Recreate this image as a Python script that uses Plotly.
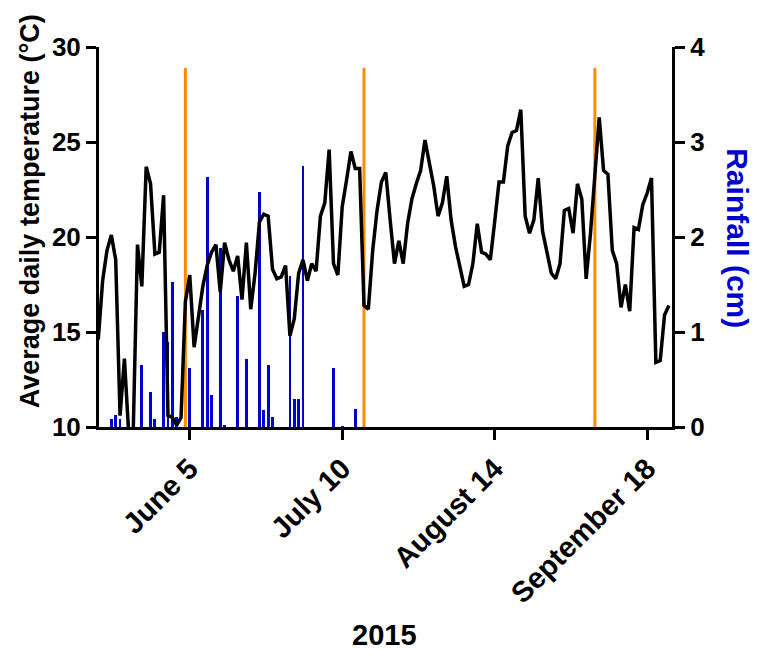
import pandas as pd
import plotly.graph_objects as go

# Average daily air temperature (°C), one value per day starting 15 May 2015
temp_c = [
    14.6, 17.7, 19.3, 20.1, 18.8, 10.6, 13.6, 9.6, 9.5, 19.6,
    17.4, 23.7, 22.8, 19.1, 19.2, 22.2, 10.6, 10.5, 10.1, 10.5,
    16.6, 18.0, 14.2, 15.9, 17.4, 18.5, 19.2, 19.6, 17.1, 19.7,
    18.8, 18.2, 19.0, 16.7, 19.7, 16.2, 18.1, 20.8, 21.2, 21.1,
    18.3, 17.8, 17.9, 18.5, 14.8, 15.7, 18.1, 18.8, 17.7, 18.6,
    18.2, 21.1, 21.8, 24.6, 18.6, 18.0, 21.6, 23.0, 24.5, 23.6,
    23.6, 16.4, 16.2, 19.3, 21.4, 22.9, 23.4, 20.9, 18.6, 19.8,
    18.6, 20.7, 22.0, 22.8, 23.5, 25.1, 24.0, 22.7, 21.1, 21.8,
    23.2, 20.9, 19.5, 18.4, 17.4, 17.5, 18.6, 20.7, 19.2, 19.1,
    18.8, 20.8, 22.9, 22.9, 24.8, 25.5, 25.6, 26.7, 21.1, 20.2,
    20.9, 23.1, 20.3, 19.2, 18.1, 17.8, 18.6, 21.4, 21.5, 20.2,
    22.8, 22.0, 17.8, 20.2, 23.1, 26.3, 23.5, 23.3, 19.3, 18.6,
    16.3, 17.5, 16.1, 20.5, 20.4, 21.7, 22.3, 23.1, 13.4, 13.5,
    15.9, 16.4,
]
first_day = "2015-05-15"
temp_dates = pd.date_range(first_day, periods=len(temp_c), freq="D")

# Daily rainfall (cm) on days with rain
rain_dates = [
    "2015-05-18", "2015-05-19", "2015-05-20", "2015-05-25", "2015-05-27",
    "2015-05-28", "2015-05-30", "2015-05-31", "2015-06-01", "2015-06-02",
    "2015-06-05", "2015-06-08", "2015-06-09", "2015-06-10", "2015-06-12",
    "2015-06-13", "2015-06-16", "2015-06-18", "2015-06-21", "2015-06-22",
    "2015-06-23", "2015-06-24", "2015-06-28", "2015-06-29", "2015-06-30",
    "2015-07-01", "2015-07-08", "2015-07-10", "2015-07-13",
]
rain_cm = [
    0.08, 0.13, 0.08, 0.65, 0.37,
    0.08, 1.00, 0.90, 1.53, 0.11,
    0.62, 1.23, 2.63, 0.34, 1.88,
    0.02, 1.38, 0.72, 2.47, 0.18,
    0.65, 0.11, 1.59, 0.29, 0.29,
    2.75, 0.62, 0.01, 0.19,
]

# Event markers (vertical orange lines)
event_dates = ["2015-06-04", "2015-07-15", "2015-09-06"]
event_top_c = 28.9

tick_dates = ["2015-06-05", "2015-07-10", "2015-08-14", "2015-09-18"]
tick_text = ["June 5", "July 10", "August 14", "September 18"]

temp_ticks = [10, 15, 20, 25, 30]
rain_ticks = [0, 1, 2, 3, 4]

FONT = "Liberation Sans, Arial, Helvetica, sans-serif"
BLUE = "#0000CC"
ORANGE = "#FF8C00"

fig = go.Figure()

fig.add_trace(go.Bar(
    x=rain_dates, y=rain_cm, yaxis="y",
    marker=dict(color=BLUE, line=dict(width=0)),
    width=0.65 * 86400000,
    name="Rainfall",
))

ev_x, ev_y = [], []
for d in event_dates:
    ev_x += [d, d, None]
    ev_y += [temp_ticks[0], event_top_c, None]
fig.add_trace(go.Scatter(
    x=ev_x, y=ev_y, yaxis="y2", mode="lines",
    line=dict(color=ORANGE, width=3),
    name="Events",
))

fig.add_trace(go.Scatter(
    x=temp_dates, y=temp_c, yaxis="y2", mode="lines",
    line=dict(color="black", width=3.5),
    name="Temperature",
))

axis_common = dict(
    showline=True, linecolor="black", linewidth=3,
    ticks="outside", ticklen=10, tickwidth=3, tickcolor="black",
    showgrid=False, zeroline=False, automargin=False,
)
ytickfont = dict(family=FONT, size=26, color="black", weight="bold")
xtickfont = dict(family=FONT, size=29, color="black", weight="bold")

fig.update_layout(
    width=757, height=656,
    margin=dict(l=99, r=85, t=47, b=229),
    paper_bgcolor="white", plot_bgcolor="white",
    showlegend=False,
    bargap=0,
    xaxis=dict(
        type="date",
        range=["2015-05-15 04:00", "2015-09-23 17:00"],
        tickmode="array", tickvals=tick_dates, ticktext=tick_text,
        tickangle=-45, tickfont=xtickfont,
        **axis_common,
    ),
    yaxis=dict(
        side="right", range=[0, 4],
        tickmode="array", tickvals=rain_ticks, tickfont=ytickfont,
        **axis_common,
    ),
    yaxis2=dict(
        side="left", overlaying="y", anchor="x", range=[10, 30],
        tickmode="array", tickvals=temp_ticks, tickfont=ytickfont,
        **axis_common,
    ),
)

fig.add_annotation(
    text="Average daily temperature (°C)", xref="paper", yref="paper",
    x=-0.121, y=0.567, xanchor="center", yanchor="middle",
    textangle=-90, showarrow=False,
    font=dict(family=FONT, size=27, weight="bold", color="black"),
)
fig.add_annotation(
    text="Rainfall (cm)", xref="paper", yref="paper",
    x=1.114, y=0.496, xanchor="center", yanchor="middle",
    textangle=90, showarrow=False,
    font=dict(family=FONT, size=30, weight="bold", color=BLUE),
)
fig.add_annotation(
    text="2015", xref="paper", yref="paper",
    x=0.499, y=-0.547, xanchor="center", yanchor="middle",
    showarrow=False,
    font=dict(family=FONT, size=29, weight="bold", color="black"),
)

fig.write_html("out.html")
